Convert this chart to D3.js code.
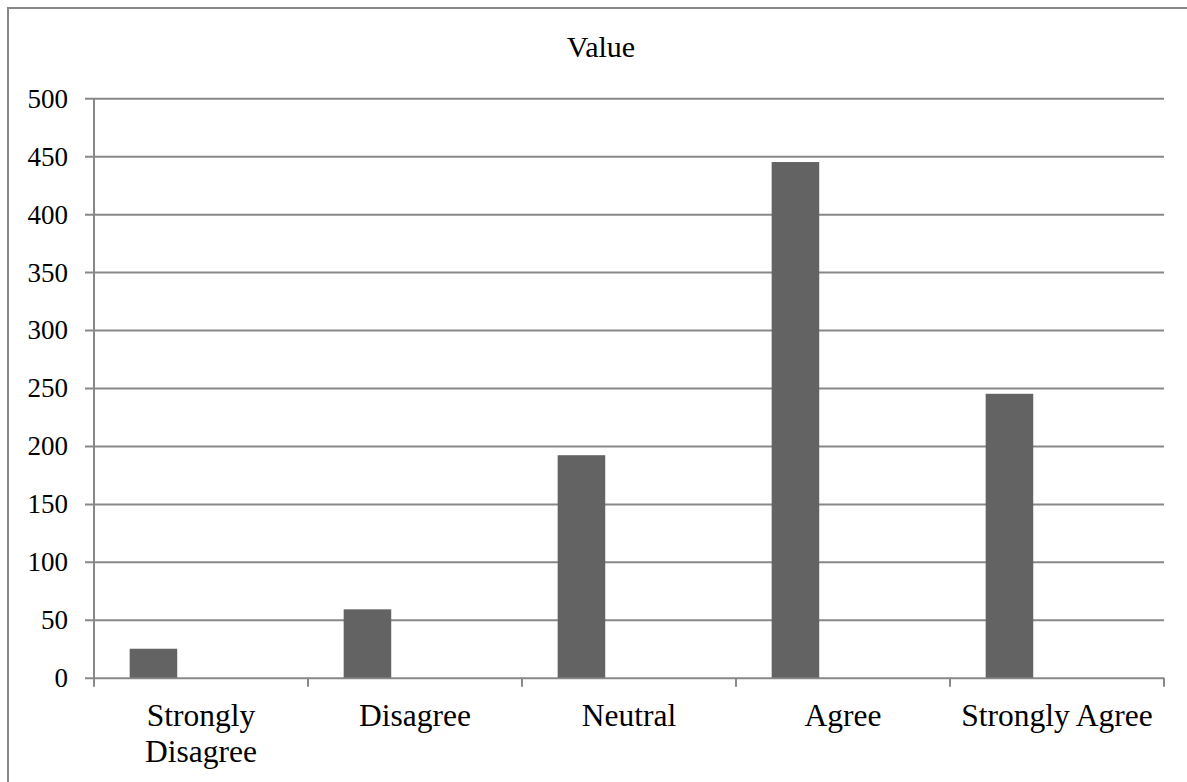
<!DOCTYPE html>
<html>
<head>
<meta charset="utf-8">
<script src="https://d3js.org/d3.v7.min.js"></script>
<style>
  html, body { margin: 0; padding: 0; background: #fff; }
  svg { display: block; }
</style>
</head>
<body>
<svg id="chart" width="1187" height="782"></svg>
<script>
const title = "Value";
const categories = ["Strongly Disagree", "Disagree", "Neutral", "Agree", "Strongly Agree"];
const values = [25, 59, 192, 445, 245];
const yTicks = [0, 50, 100, 150, 200, 250, 300, 350, 400, 450, 500];

const svg = d3.select("#chart");
const W = 1187, H = 782;
const plot = { left: 94, right: 1164, top: 98.3, bottom: 677.7 };
const gridColor = "#888888";
const barColor = "#636363";
const font = "'Liberation Serif', 'Times New Roman', serif";

// Outer frame (right and bottom edges run off the page)
svg.append("rect")
  .attr("x", 8).attr("y", 8)
  .attr("width", W + 10).attr("height", H + 10)
  .attr("fill", "none").attr("stroke", gridColor).attr("stroke-width", 2);

const x = d3.scaleBand().domain(categories).range([plot.left, plot.right]).padding(0);
const y = d3.scaleLinear().domain([0, 500]).range([plot.bottom, plot.top]);

// Gridlines + y ticks
const yAxis = svg.append("g").attr("transform", `translate(${plot.left},0)`)
  .call(d3.axisLeft(y).tickValues(yTicks).tickSize(-(plot.right - plot.left)).tickFormat(d3.format("d")).tickPadding(18));
yAxis.select(".domain").remove();
yAxis.selectAll(".tick line")
  .attr("x1", -9)
  .attr("stroke", gridColor).attr("stroke-width", 2);
yAxis.selectAll(".tick text")
  .attr("font-family", font).attr("font-size", 27).attr("fill", "#000")
  .attr("x", -26).attr("dy", "0.33em");

// Y axis line
svg.append("line")
  .attr("x1", plot.left).attr("x2", plot.left)
  .attr("y1", plot.top).attr("y2", plot.bottom + 9)
  .attr("stroke", gridColor).attr("stroke-width", 2);

// X axis category boundary ticks
const bounds = categories.map(c => x(c)).concat([plot.right]);
svg.append("g").selectAll("line").data(bounds.slice(1)).join("line")
  .attr("x1", d => d).attr("x2", d => d)
  .attr("y1", plot.bottom).attr("y2", plot.bottom + 9)
  .attr("stroke", gridColor).attr("stroke-width", 2);

// Bars (first of three series slots in each band)
const bw = x.bandwidth() / 4.5;
svg.append("g").selectAll("rect").data(values).join("rect")
  .attr("x", (d, i) => x(categories[i]) + bw * 0.75)
  .attr("y", d => y(d))
  .attr("width", bw)
  .attr("height", d => y(0) - y(d))
  .attr("fill", barColor);

// X labels with wrapping
const labelSize = 31.5;
const lg = svg.append("g");
categories.forEach(c => {
  const cx = x(c) + x.bandwidth() / 2;
  const t = lg.append("text")
    .attr("font-family", font).attr("font-size", labelSize).attr("fill", "#000")
    .attr("text-anchor", "middle").attr("x", cx).attr("y", 726);
  t.text(c);
  if (t.node().getComputedTextLength() > x.bandwidth() - 6) {
    t.text(null);
    const words = c.split(" ");
    words.forEach((w, i) => {
      t.append("tspan").attr("x", cx).attr("y", 726 + i * 35.7).text(w);
    });
  }
});

// Title
svg.append("text")
  .attr("x", 601).attr("y", 57)
  .attr("text-anchor", "middle")
  .attr("font-family", font).attr("font-size", 30).attr("fill", "#000")
  .text(title);
</script>
</body>
</html>
